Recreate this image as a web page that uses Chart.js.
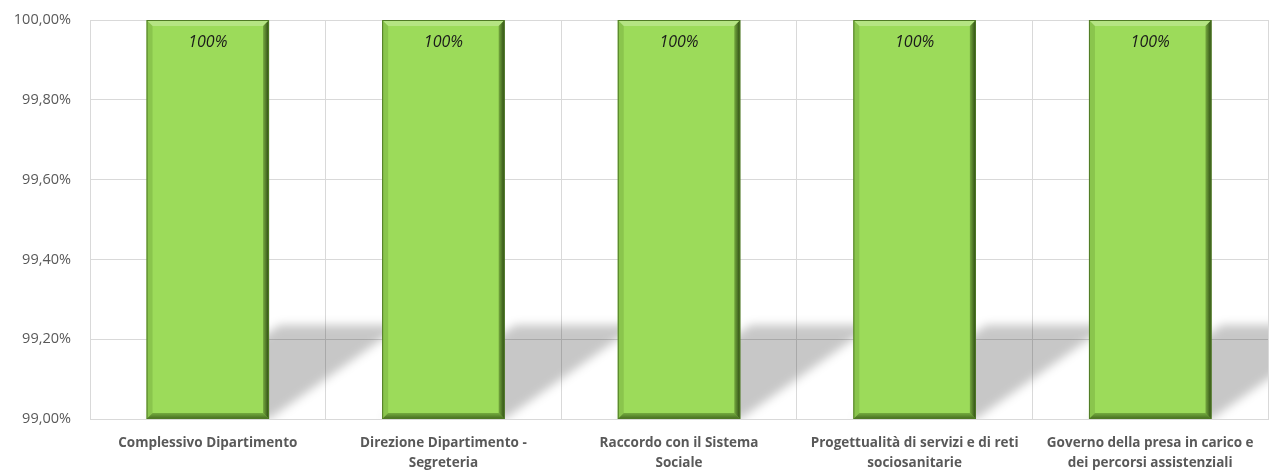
<!DOCTYPE html>
<html>
<head>
<meta charset="utf-8">
<script src="https://cdn.jsdelivr.net/npm/chart.js@4.4.1/dist/chart.umd.min.js"></script>
<style>
  html, body { margin: 0; padding: 0; background: #fff; }
  #wrap { width: 1280px; height: 476px; }
</style>
</head>
<body>
<div id="wrap"><canvas id="myChart"></canvas></div>
<script>
const gCategories = [
  ['Complessivo Dipartimento'],
  ['Direzione Dipartimento -', 'Segreteria'],
  ['Raccordo con il Sistema', 'Sociale'],
  ['Progettualità di servizi e di reti', 'sociosanitarie'],
  ['Governo della presa in carico e', 'dei percorsi assistenziali']
]
const gValues = [100, 100, 100, 100, 100]
const gAxisMin = 99
const gAxisMax = 100
const gAxisStep = 0.2

// shadow + bevel + value labels drawn on top of the bar elements
const barLook = {
  id: 'barLook',
  beforeDatasetsDraw(chart) {
    const ctx = chart.ctx
    const area = chart.chartArea
    const base = chart.scales.y.getPixelForValue(gAxisMin)
    ctx.save()
    ctx.beginPath()
    ctx.rect(area.left, area.top, area.right - area.left, area.bottom - area.top)
    ctx.clip()
    ctx.filter = 'blur(5px)'
    ctx.fillStyle = 'rgba(0,0,0,0.22)'
    chart.getDatasetMeta(0).data.forEach(bar => {
      const half = bar.width / 2
      const dx = 133, dy = 94
      ctx.beginPath()
      ctx.moveTo(bar.x - half, base)
      ctx.lineTo(bar.x + half, base)
      ctx.lineTo(bar.x + half + dx, base - dy)
      ctx.lineTo(bar.x - half + dx, base - dy)
      ctx.closePath()
      ctx.fill()
    })
    ctx.restore()
  },
  afterDatasetsDraw(chart) {
    const ctx = chart.ctx
    const b = chart.scales.y.getPixelForValue(gAxisMin)
    ctx.save()
    chart.getDatasetMeta(0).data.forEach((bar, i) => {
      const l = bar.x - bar.width / 2
      const r = bar.x + bar.width / 2
      const t = bar.y
      const e = 6
      // top bevel
      ctx.fillStyle = 'rgba(255,255,255,0.25)'
      ctx.beginPath()
      ctx.moveTo(l, t); ctx.lineTo(r, t); ctx.lineTo(r - e, t + e); ctx.lineTo(l + e, t + e); ctx.closePath(); ctx.fill()
      // left bevel
      ctx.fillStyle = 'rgba(60,100,20,0.18)'
      ctx.beginPath()
      ctx.moveTo(l, t); ctx.lineTo(l + e, t + e); ctx.lineTo(l + e, b - e); ctx.lineTo(l, b); ctx.closePath(); ctx.fill()
      // right bevel
      let g = ctx.createLinearGradient(r - e, 0, r, 0)
      g.addColorStop(0, 'rgba(40,70,10,0.35)')
      g.addColorStop(1, 'rgba(20,40,5,0.85)')
      ctx.fillStyle = g
      ctx.beginPath()
      ctx.moveTo(r, t); ctx.lineTo(r, b); ctx.lineTo(r - e, b - e); ctx.lineTo(r - e, t + e); ctx.closePath(); ctx.fill()
      // bottom bevel
      g = ctx.createLinearGradient(0, b - e, 0, b)
      g.addColorStop(0, 'rgba(40,80,10,0.35)')
      g.addColorStop(1, 'rgba(30,55,5,0.7)')
      ctx.fillStyle = g
      ctx.beginPath()
      ctx.moveTo(l, b); ctx.lineTo(r, b); ctx.lineTo(r - e, b - e); ctx.lineTo(l + e, b - e); ctx.closePath(); ctx.fill()
      ctx.strokeStyle = '#4f7a25'
      ctx.lineWidth = 1
      ctx.strokeRect(l + 0.5, t + 0.5, bar.width - 1, b - t - 1)
      // value label
      ctx.fillStyle = '#1a1a1a'
      ctx.font = 'italic 16px "Open Sans", sans-serif'
      ctx.textAlign = 'center'
      ctx.textBaseline = 'middle'
      ctx.fillText(gValues[i] + '%', bar.x, t + 22)
    })
    ctx.restore()
  }
}

function displayChart() {
  const ctx = document.getElementById('myChart').getContext('2d')
  new Chart(ctx, {
    type: 'bar',
    data: {
      labels: gCategories,
      datasets: [{
        data: gValues,
        backgroundColor: '#9cdb5a',
        borderWidth: 0,
        categoryPercentage: 1,
        barPercentage: 0.52
      }]
    },
    plugins: [barLook],
    options: {
      responsive: true,
      maintainAspectRatio: false,
      animation: false,
      layout: { padding: { top: 0, right: 12, left: 0, bottom: 0 } },
      scales: {
        x: {
          grid: { color: '#d9d9d9', offset: true, drawTicks: false },
          border: { color: '#d9d9d9' },
          ticks: {
            autoSkip: false,
            maxRotation: 0,
            minRotation: 0,
            padding: 14,
            color: '#595959',
            font: { family: '"Open Sans", sans-serif', size: 13.5, weight: 'bold', lineHeight: 1.5 }
          },
          afterFit(scale) { scale.height = 57 }
        },
        y: {
          min: gAxisMin,
          max: gAxisMax,
          grid: { color: '#d9d9d9', drawTicks: false },
          border: { color: '#d9d9d9' },
          ticks: {
            stepSize: gAxisStep,
            padding: 19,
            color: '#595959',
            font: { family: '"Open Sans", sans-serif', size: 14.5 },
            callback: v => v.toFixed(2).replace('.', ',') + '%'
          },
          afterFit(scale) {
            scale.width = 90
            scale.paddingTop = 20
            scale.paddingBottom = 0
          }
        }
      },
      plugins: {
        legend: { display: false },
        tooltip: { enabled: false }
      }
    }
  })
}

displayChart()
</script>
</body>
</html>
